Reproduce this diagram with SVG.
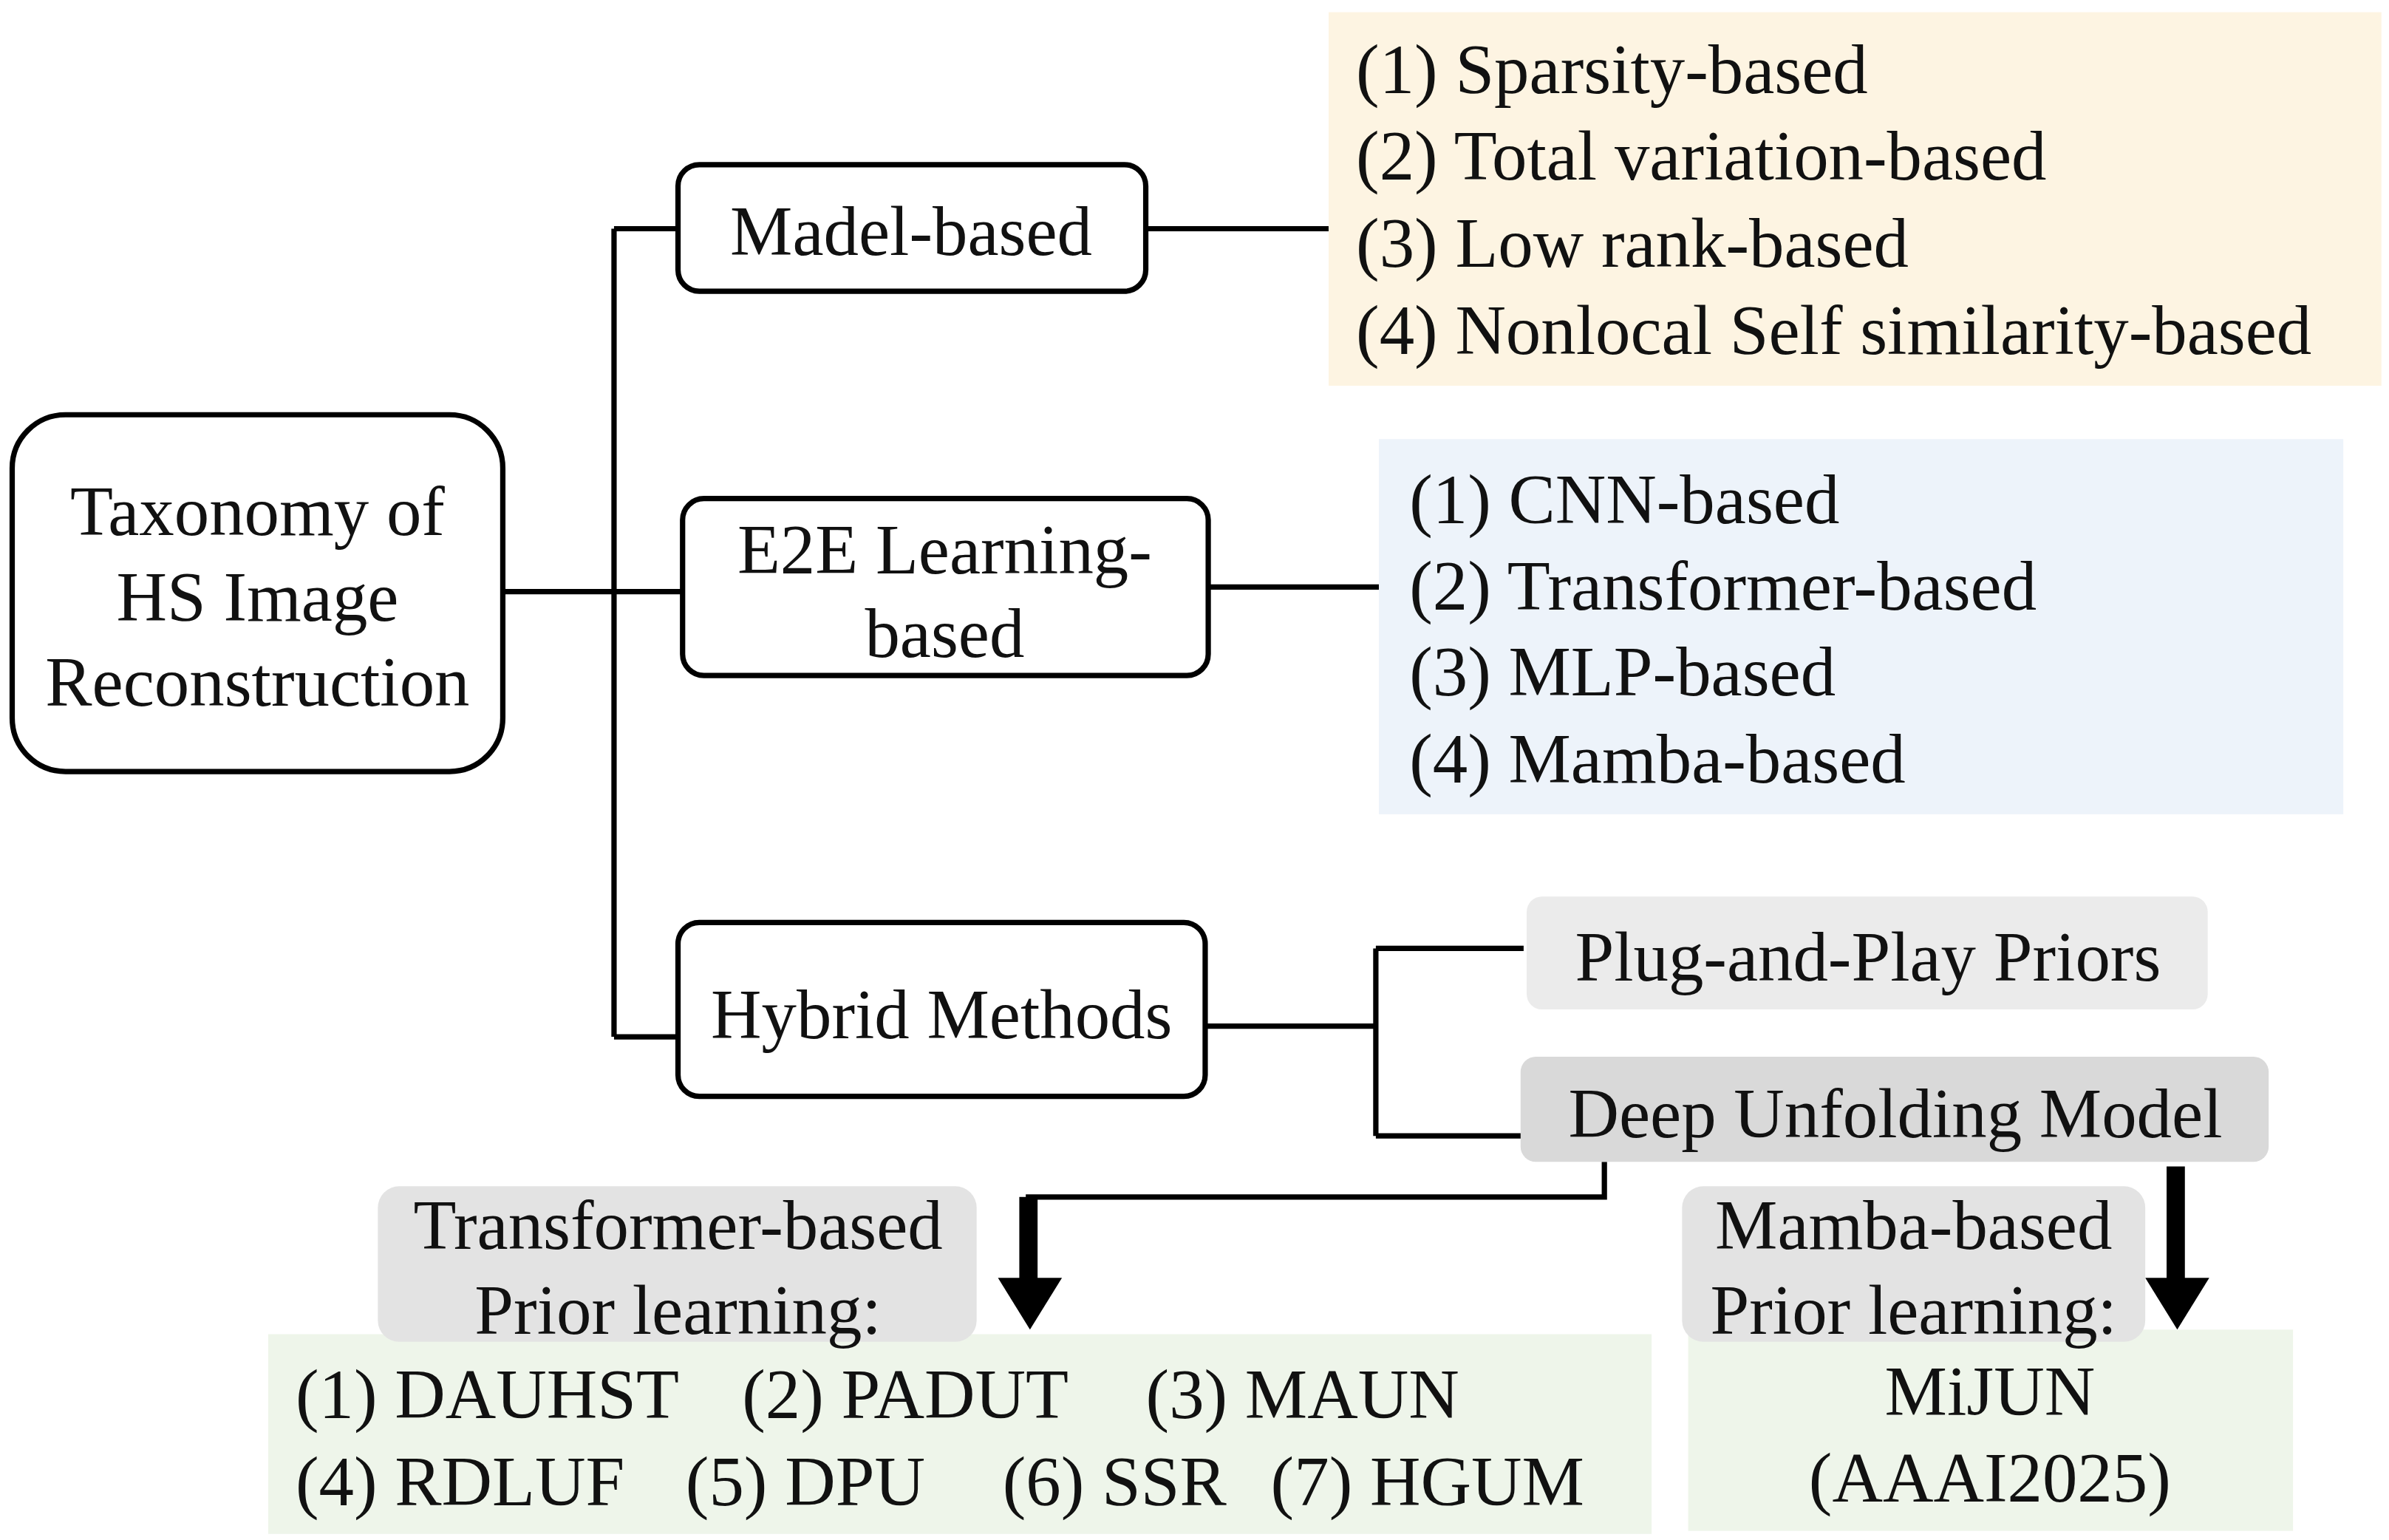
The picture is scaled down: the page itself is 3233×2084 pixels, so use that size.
<svg xmlns="http://www.w3.org/2000/svg" width="3233" height="2084" viewBox="0 0 3233 2084">
<style>
text{font-family:"Liberation Serif","Times New Roman",serif;font-size:46px;fill:#111}
.node{fill:#fff;stroke:#000;stroke-width:3.5}
.c{text-anchor:middle}
.ln{fill:none;stroke:#000;stroke-width:3.5}
</style>
<rect width="3233" height="2084" fill="#fff"/>
<g transform="scale(2.0619,2.0634)">
<g id="connectors">
<path class="ln" d="M330,388H403M403,150V680M403,150H445M403,388H448M403,680H445"/>
<path class="ln" d="M752,150H872M793,385H905M791,673H903M903,622V745M903,622H1000M903,745H1000"/>
<path class="ln" d="M1053,762V785H675V840"/>
<rect x="669" y="785" width="12" height="55" fill="#000"/>
<polygon points="655,838 697,838 676,872" fill="#000"/>
<rect x="1422" y="765" width="12" height="75" fill="#000"/>
<polygon points="1408,838 1450,838 1429,872" fill="#000"/>
</g>
<g id="root"><rect class="node" x="8" y="272" width="322" height="234" rx="35"/>
<text class="c" x="169" y="351" font-size="50">Taxonomy of</text>
<text class="c" x="169" y="407" font-size="50">HS Image</text>
<text class="c" x="169" y="463" font-size="50">Reconstruction</text></g>
<g id="model"><rect class="node" x="445" y="108" width="307" height="83" rx="14"/>
<text class="c" x="598" y="167" font-size="48">Madel-based</text></g>
<g id="e2e"><rect class="node" x="448" y="327" width="345" height="116" rx="14"/>
<text class="c" x="620" y="376" font-size="48">E2E Learning-</text>
<text class="c" x="620" y="431" font-size="48">based</text></g>
<g id="hybrid"><rect class="node" x="445" y="605" width="346" height="114" rx="14"/>
<text class="c" x="618" y="681" font-size="48">Hybrid Methods</text></g>
<g id="model-list"><rect x="872" y="8" width="691" height="245" fill="#fdf4e2"/>
<text x="890" y="61">(1) Sparsity-based</text>
<text x="890" y="118">(2) Total variation-based</text>
<text x="890" y="175">(3) Low rank-based</text>
<text x="890" y="232">(4) Nonlocal Self similarity-based</text></g>
<g id="e2e-list"><rect x="905" y="288" width="633" height="246" fill="#edf3fa"/>
<text x="925" y="343">(1) CNN-based</text>
<text x="925" y="400">(2) Transformer-based</text>
<text x="925" y="456">(3) MLP-based</text>
<text x="925" y="513">(4) Mamba-based</text></g>
<g id="pnp"><rect x="1002" y="588" width="447" height="74" rx="10" fill="#ebebeb"/>
<text class="c" x="1226" y="643" font-size="47">Plug-and-Play Priors</text></g>
<g id="dum"><rect x="998" y="693" width="491" height="69" rx="10" fill="#d9d9d9"/>
<text class="c" x="1244" y="746" font-size="47">Deep Unfolding Model</text></g>
<g id="trans-list"><rect x="176" y="875" width="908" height="131" fill="#eef5ea"/>
<text x="194" y="930">(1) DAUHST</text><text x="487" y="930">(2) PADUT</text><text x="752" y="930">(3) MAUN</text>
<text x="194" y="987">(4) RDLUF</text><text x="450" y="987">(5) DPU</text><text x="658" y="987">(6) SSR</text><text x="834" y="987">(7) HGUM</text></g>
<g id="trans-label"><rect x="248" y="778" width="393" height="102" rx="14" fill="#e3e3e3"/>
<text class="c" x="445" y="819" font-size="47">Transformer-based</text>
<text class="c" x="445" y="875" font-size="47">Prior learning:</text></g>
<g id="mamba-list"><rect x="1108" y="872" width="397" height="132" fill="#eef5ea"/>
<text class="c" x="1306" y="928">MiJUN</text>
<text class="c" x="1306" y="985">(AAAI2025)</text></g>
<g id="mamba-label"><rect x="1104" y="778" width="304" height="102" rx="14" fill="#e3e3e3"/>
<text class="c" x="1256" y="819" font-size="47">Mamba-based</text>
<text class="c" x="1256" y="875" font-size="47">Prior learning:</text></g>
</g>
</svg>
